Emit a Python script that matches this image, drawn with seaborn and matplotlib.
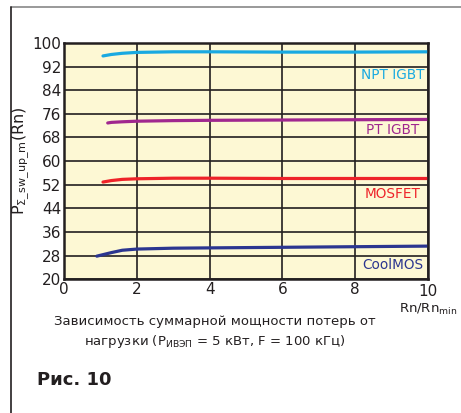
import numpy as np
import pandas as pd
import matplotlib.pyplot as plt
import seaborn as sns
from matplotlib.lines import Line2D

# values
rn = [1.0, 1.3, 1.6, 2.0, 3.0, 4.0, 6.0, 8.0, 10.0]
npt_igbt = [95.6, 96.1, 96.5, 96.8, 97.0, 97.0, 96.9, 96.9, 97.0]
pt_igbt = [72.9, 73.1, 73.3, 73.5, 73.7, 73.8, 73.9, 74.0, 74.1]
mosfet = [52.9, 53.4, 53.8, 54.0, 54.2, 54.2, 54.1, 54.1, 54.1]
coolmos = [27.8, 29.0, 29.8, 30.2, 30.5, 30.6, 30.8, 31.0, 31.2]
x_start = {'NPT IGBT': 1.07, 'PT IGBT': 1.2, 'MOSFET': 1.07, 'CoolMOS': 0.9}

series = {'NPT IGBT': npt_igbt, 'PT IGBT': pt_igbt, 'MOSFET': mosfet, 'CoolMOS': coolmos}
colors = {'NPT IGBT': '#19a9e1', 'PT IGBT': '#a0278f', 'MOSFET': '#ee2229', 'CoolMOS': '#2b3590'}
label_y = {'NPT IGBT': 89.2, 'PT IGBT': 70.6, 'MOSFET': 49.0, 'CoolMOS': 24.7}

rows = []
for name, vals in series.items():
    for x, y in zip(rn, vals):
        rows.append({'Rn': max(x, x_start[name]), 'P': y, 'type': name})
df = pd.DataFrame(rows)
# the first point sits at the curve's own start
for name in series:
    i = df.index[df['type'] == name][0]
    df.loc[i, 'Rn'] = x_start[name]

sns.set_style('white')
plt.rcParams['font.family'] = ['DejaVu Sans']

fig = plt.figure(figsize=(4.61, 4.13), dpi=100)
ax = fig.add_axes([0.139, 0.324, 0.789, 0.572])
ax.set_facecolor('#fdf8d4')

for name in series:
    sub = df[df['type'] == name]
    sns.lineplot(data=sub, x='Rn', y='P', ax=ax, color=colors[name], lw=2.3, legend=False)
    ax.text(9.03, label_y[name], name, color=colors[name], ha='center', va='center', fontsize=9.8)

ax.set_xlim(0, 10)
ax.set_ylim(20, 100)
ax.set_xticks(range(0, 11, 2))
ax.set_yticks(range(20, 101, 8))
ax.grid(True, color='#231f20', lw=1.2, alpha=1)
ax.set_axisbelow(True)
for s in ax.spines.values():
    s.set_color('#231f20')
    s.set_linewidth(1.8)
ax.tick_params(axis='both', labelsize=11, length=0, pad=2, colors='#231f20')
ax.set_xticklabels(['0', '2', '4', '6', '8', ''])
ax.set_xlabel('')
ax.set_ylabel(r'$\mathrm{P_{\Sigma\_sw\_up\_m}(Rn)}$', fontsize=11.5, labelpad=0, color='#231f20')

# "10" and axis name at right end
fig.text(428 / 461, 1 - 291 / 413, '10', ha='center', va='center', fontsize=11, color='#231f20')
fig.text(428 / 461, 1 - 309 / 413, r'Rn/Rn$_{\mathrm{min}}$', ha='center', va='center',
         fontsize=9.5, color='#231f20')

fig.text(215 / 461, 1 - 322 / 413, 'Зависимость суммарной мощности потерь от',
         ha='center', va='center', fontsize=9.5, color='#231f20')
fig.text(215 / 461, 1 - 342 / 413, r'нагрузки (P$_{\mathrm{ИВЭП}}$ = 5 кВт, F = 100 кГц)',
         ha='center', va='center', fontsize=9.5, color='#231f20')
fig.text(37 / 461, 1 - 380 / 413, 'Рис. 10', ha='left', va='center', fontsize=13,
         fontweight='bold', color='#231f20')

# frame lines
fig.add_artist(Line2D([11 / 461, 1], [1 - 7 / 413, 1 - 7 / 413], color='#888888', lw=1.2))
fig.add_artist(Line2D([11 / 461, 11 / 461], [0, 1 - 7 / 413], color='#231f20', lw=1.2))

fig.savefig('out.png', dpi=100)
